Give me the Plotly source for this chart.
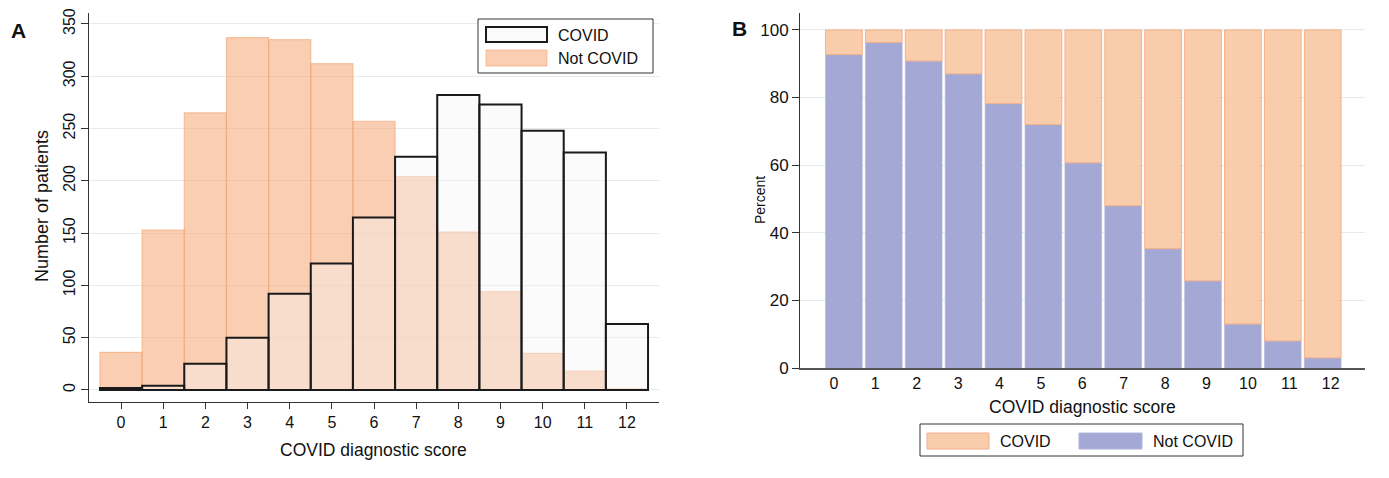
import plotly.graph_objects as go

# ---------------- data ----------------
scores = [0, 1, 2, 3, 4, 5, 6, 7, 8, 9, 10, 11, 12]
score_labels = [str(s) for s in scores]

# Panel A: number of patients
covid_counts = [2, 4, 25, 50, 92, 121, 165, 223, 282, 273, 248, 227, 63]
not_covid_counts = [36, 153, 265, 337, 335, 312, 257, 204, 151, 94, 35, 18, 1]

# Panel B: percent (stacked, Not COVID at bottom)
not_covid_pct = [92.7, 96.3, 90.8, 87.0, 78.2, 72.0, 60.7, 48.0, 35.3, 25.8, 13.0, 8.0, 3.0]
covid_pct = [round(100 - v, 1) for v in not_covid_pct]

a_yticks = [0, 50, 100, 150, 200, 250, 300, 350]
b_yticks = [0, 20, 40, 60, 80, 100]

FONT = "Liberation Sans, Arial, Helvetica, sans-serif"
W, H = 1389, 478

ORANGE_FILL_A = "rgba(245,162,110,0.53)"
ORANGE_LINE_A = "rgba(242,165,115,0.6)"
COVID_FILL_A = "rgba(246,246,246,0.40)"
BLUE_FILL = "#a3a8d4"
ORANGE_FILL_B = "rgba(248,196,158,0.85)"
ORANGE_LINE_B = "#f5b08a"
GRID = "#e2ecef"
AXIS = "#333333"
TXT = "#111111"

fig = go.Figure()

# Panel A (overlaid)
fig.add_trace(go.Bar(x=scores, y=not_covid_counts, name="Not COVID", width=1.0,
                     offsetgroup="a",
                     marker=dict(color=ORANGE_FILL_A, line=dict(color=ORANGE_LINE_A, width=1.2)),
                     xaxis="x", yaxis="y", showlegend=False))
fig.add_trace(go.Bar(x=scores, y=covid_counts, name="COVID", width=1.0,
                     offsetgroup="a",
                     marker=dict(color=COVID_FILL_A, line=dict(color="#1a1a1a", width=2)),
                     xaxis="x", yaxis="y", showlegend=False))

# Panel B (stacked)
fig.add_trace(go.Bar(x=scores, y=not_covid_pct, name="Not COVID", width=0.92,
                     offsetgroup="b",
                     marker=dict(color=BLUE_FILL, line=dict(color="#b0b4da", width=0.6)),
                     xaxis="x2", yaxis="y2", showlegend=False))
fig.add_trace(go.Bar(x=scores, y=covid_pct, base=not_covid_pct, name="COVID", width=0.92,
                     offsetgroup="b",
                     marker=dict(color=ORANGE_FILL_B, line=dict(color=ORANGE_LINE_B, width=1)),
                     xaxis="x2", yaxis="y2", showlegend=False))


def px_x(p):
    return p / W


def px_y(p):
    return 1 - p / H


# label positions in panel B are spaced slightly wider than the bars
b_tickvals = [-0.25 + 1.0376 * s for s in scores]

fig.update_layout(
    width=W, height=H,
    margin=dict(l=0, r=0, t=0, b=0, autoexpand=False),
    paper_bgcolor="white", plot_bgcolor="white",
    barmode="overlay",
    font=dict(family=FONT, color=TXT),
    xaxis=dict(domain=[px_x(89), px_x(659)], range=[-0.76, 12.76], automargin=False,
               tickvals=scores, ticktext=score_labels, ticks="outside", ticklen=6,
               tickcolor=AXIS, showline=True, linecolor=AXIS, linewidth=1,
               showgrid=False, zeroline=False,
               tickfont=dict(family=FONT, size=16, color=TXT),
               anchor="y"),
    yaxis=dict(domain=[px_y(402), px_y(13)], range=[-11.5, 360.5], automargin=False,
               tickvals=a_yticks, ticks="outside", ticklen=7, tickcolor=AXIS,
               tickangle=-90, showline=True, linecolor=AXIS, linewidth=1,
               showgrid=True, gridcolor=GRID, gridwidth=1, zeroline=False,
               tickfont=dict(family=FONT, size=16, color=TXT),
               anchor="x"),
    xaxis2=dict(domain=[px_x(800), px_x(1365)], range=[-1.10, 13.06], automargin=False,
                tickvals=b_tickvals, ticktext=score_labels, ticks="",
                showline=True, linecolor="#555555", linewidth=1.5,
                showgrid=False, zeroline=False,
                tickfont=dict(family=FONT, size=16, color=TXT),
                anchor="y2"),
    yaxis2=dict(domain=[px_y(368), px_y(13)], range=[0, 105], automargin=False,
                tickvals=b_yticks, ticks="outside", ticklen=7, tickcolor=AXIS,
                showline=True, linecolor=AXIS, linewidth=1,
                showgrid=True, gridcolor=GRID, gridwidth=1, zeroline=False,
                tickfont=dict(family=FONT, size=17, color=TXT),
                anchor="x2"),
)

shapes = []
annotations = []


def text(t, x, y, size, angle=0, xanchor="center", bold=False):
    annotations.append(dict(text=f"<b>{t}</b>" if bold else t,
                            x=px_x(x), y=px_y(y), xref="paper", yref="paper",
                            xanchor=xanchor, yanchor="middle", showarrow=False,
                            textangle=angle,
                            font=dict(family=FONT, size=size, color=TXT)))


# Panel letters
text("A", 18, 30, 21, bold=True)
text("B", 740, 28, 21, bold=True)

# Axis titles
text("COVID diagnostic score", 373, 450, 17.5)
text("Number of patients", 42, 206, 18, angle=-90)
text("COVID diagnostic score", 1082, 407, 17.5)
text("Percent", 760, 200, 14, angle=-90)


def rect(x0, y0, x1, y1, fill, line, lw=1):
    shapes.append(dict(type="rect", xref="paper", yref="paper",
                       x0=px_x(x0), x1=px_x(x1), y0=px_y(y1), y1=px_y(y0),
                       fillcolor=fill, line=dict(color=line, width=lw)))


# Legend A
rect(478, 19, 653, 73, "white", "#333333", 1)
rect(486, 27, 547, 42, "#fbfbfb", "#1a1a1a", 2)
rect(486, 50, 547, 66, ORANGE_FILL_A, ORANGE_LINE_A, 1)
text("COVID", 556, 35, 16, xanchor="left")
text("Not COVID", 556, 58, 16, xanchor="left")

# Legend B
rect(920, 424, 1243, 456, "white", "#333333", 1)
rect(927, 433, 989, 449, ORANGE_FILL_B, ORANGE_LINE_B, 1)
rect(1079, 433, 1142, 449, BLUE_FILL, "#b0b4da", 1)
text("COVID", 998, 441, 16, xanchor="left")
text("Not COVID", 1151, 441, 16, xanchor="left")

fig.update_layout(shapes=shapes, annotations=annotations)

fig.write_html("out.html",
               config={"displayModeBar": False},
               post_script="document.body.style.margin='0';document.body.style.overflow='hidden';")
